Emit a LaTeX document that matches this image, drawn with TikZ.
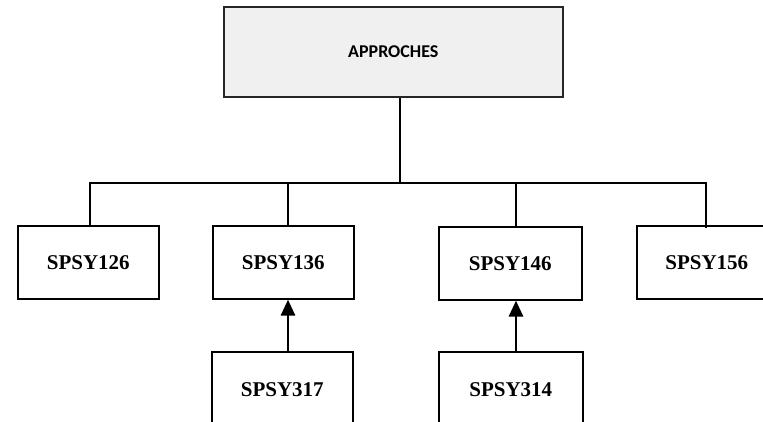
\documentclass[tikz,border=0pt]{standalone}
\usepackage{fontspec}
\setmainfont{Liberation Serif}
\newfontfamily\calib{Carlito}
\usetikzlibrary{arrows.meta}
\begin{document}
\begin{tikzpicture}[x=1pt,y=-1pt,
  box/.style={draw=black,line width=1.6pt,minimum width=141pt,minimum height=73pt,inner sep=0pt,anchor=north west,font=\fontsize{21}{24}\selectfont\bfseries},
  conn/.style={line width=1.6pt},
  up/.style={line width=2.8pt,-{Triangle[length=16pt,width=14pt]}}]
\useasboundingbox (0,0) rectangle (763,421);
\node[draw=black!85,fill=black!6,line width=1.6pt,minimum width=339pt,minimum height=90pt,inner sep=0pt,anchor=north west,font=\calib\fontsize{18}{20}\selectfont\bfseries] (top) at (223,6) {APPROCHES};
\node[box] (a) at (17,225) {SPSY126};
\node[box] (b) at (212,225) {SPSY136};
\node[box,minimum width=143pt] (c) at (438,226) {SPSY146};
\begin{scope}
\clip (0,0) rectangle (763,421);
\node[box,text width=141pt,align=center] (d) at (636,225) {\hspace*{-1pt}SPSY156};
\node[box,minimum height=90pt] (e) at (211,351) {};
\node[box,minimum width=144pt,minimum height=90pt] (f) at (438,351) {};
\end{scope}
\node[font=\fontsize{21}{24}\selectfont\bfseries] at (e.north |- 0,390) {SPSY317};
\node[font=\fontsize{21}{24}\selectfont\bfseries] at (f.north |- 0,390) {SPSY314};
\coordinate (bus) at (400,183);
\coordinate (xb) at (288,0);
\coordinate (xc) at (516,0);
\draw[conn] (top.south -| bus) -- (bus);
\draw[conn] (a.north -| 90,0) |- (706,183) -- (706,228);
\draw[conn] (b.north -| xb) -- (xb |- bus);
\draw[conn] (c.north -| xc) -- (xc |- bus);
\draw[up] (e.north -| xb) -- (b.south -| xb);
\draw[up] (f.north -| xc) -- (c.south -| xc);
\end{tikzpicture}
\end{document}
